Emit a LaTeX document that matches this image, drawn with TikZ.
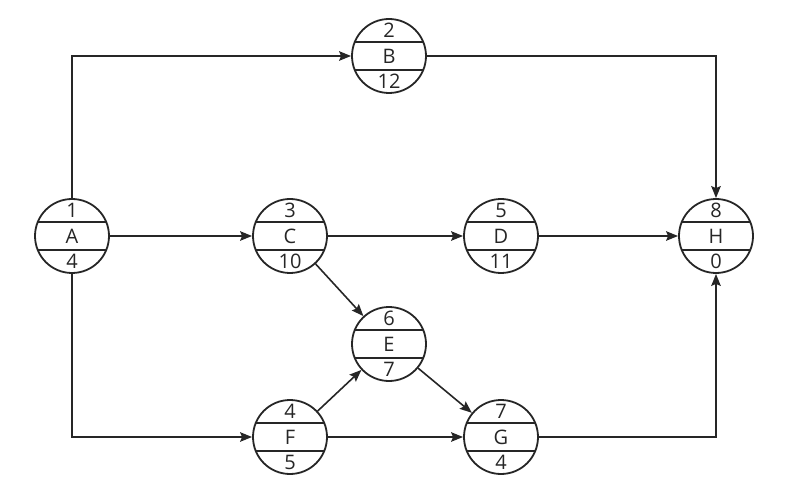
\documentclass[tikz,border=0pt]{standalone}
\usepackage{fontspec}
\setmainfont{Open Sans}
\usepackage{tikz}
\usetikzlibrary{arrows.meta}

% one activity circle: name, position, number, letter, duration
\newcommand{\netnode}[5]{%
  \node[act] (#1) at #2 {};
  \draw[thick line] ([shift={(-35.3,14)}]#1.center) -- ++(70.6,0);
  \draw[thick line] ([shift={(-35.3,-14)}]#1.center) -- ++(70.6,0);
  \node[lbl] (#1-num) at ([yshift=26]#1.center) {#3};
  \node[lbl] (#1-name) at (#1.center) {#4};
  \node[lbl] (#1-dur) at ([yshift=-25]#1.center) {#5};
}

\begin{document}
\begin{tikzpicture}[x=1pt,y=1pt,
    thick line/.style={line width=1.8pt,draw=black!85},
    act/.style={circle,draw=black!85,line width=1.8pt,minimum size=74pt,inner sep=0pt},
    lbl/.style={inner sep=0pt,font=\fontsize{20}{20}\selectfont,text=black!85},
    arr/.style={line width=1.6pt,draw=black!85,-{Stealth[length=12pt,width=9.5pt,inset=2pt]}}]
  \useasboundingbox (0,0) rectangle (804,499);
            \netnode{a}{(72,263)}{1}{A}{4}
            \netnode{b}{(389,443)}{2}{B}{12}
            \netnode{c}{(290,263)}{3}{C}{10}
            \netnode{f}{(290,62)}{4}{F}{5}
            \netnode{d}{(501,263)}{5}{D}{11}
            \netnode{e}{(389,155)}{6}{E}{7}
            \netnode{g}{(501,62)}{7}{G}{4}
            \netnode{h}{(716,263)}{8}{H}{0}
              \draw[arr] (a.north) |- (b.west);
              \draw[arr] (b.east) -| (h.north);
              \draw[arr] (a) -- (c);
              \draw[arr] (c) -- (d);
              \draw[arr] (d) -- (h);
              \draw[arr] (c) -- (e);
              \draw[arr] (a.south) |- (f.west);
              \draw[arr] (f) -- (e);
              \draw[arr] (e) -- (g);
              \draw[arr] (f) -- (g);
              \draw[arr] (g.east) -| (h.south);
\end{tikzpicture}
\end{document}
